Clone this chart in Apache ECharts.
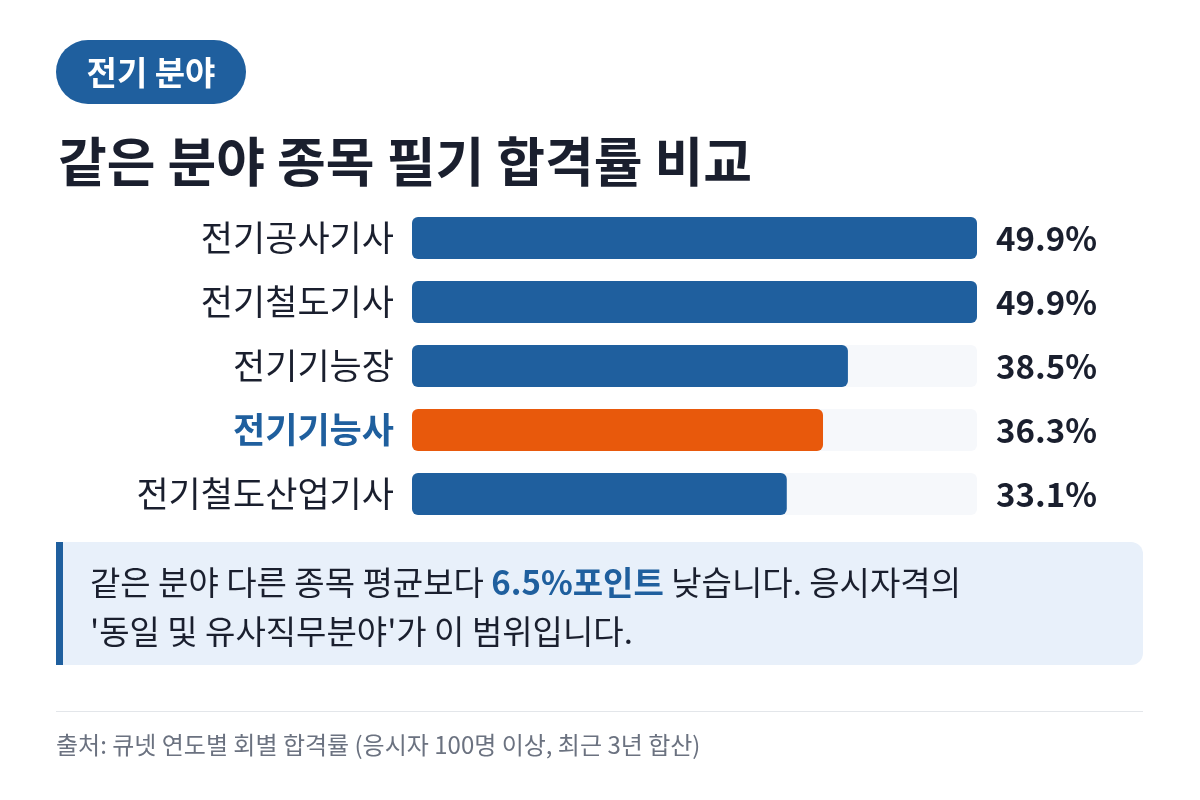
<!DOCTYPE html>
<html><head><meta charset="utf-8">
<script src="https://cdn.jsdelivr.net/npm/echarts@6/dist/echarts.min.js"></script>
<style>html,body{margin:0;background:#fff}#c{width:1200px;height:800px}</style>
</head><body><div id="c"></div>
<script>
const categories = ['전기공사기사','전기철도기사','전기기능장','전기기능사','전기철도산업기사'];
const values = [49.9, 49.9, 38.5, 36.3, 33.1];
const highlight = '전기기능사';
const F = "'Noto Sans CJK KR','Noto Sans',sans-serif";
const chart = echarts.init(document.getElementById('c'));
chart.setOption({
  backgroundColor:'#fff',
  grid:{left:412,right:223,top:206,height:320},
  xAxis:{type:'value',min:0,max:49.9,show:false},
  yAxis:[{type:'category',inverse:true,data:categories,axisLine:{show:false},axisTick:{show:false},
    axisLabel:{margin:18,fontFamily:F,fontSize:35,color:'#1a1f2e',
      formatter:v=>v===highlight?'{h|'+v+'}':v,
      rich:{h:{fontFamily:F,fontSize:35,fontWeight:'bold',color:'#1f5f9e'}}}},
    {type:'category',inverse:true,position:'right',data:values.map(v=>v.toFixed(1)+'%'),axisLine:{show:false},axisTick:{show:false},
    axisLabel:{margin:120,align:'right',fontFamily:F,fontSize:33,fontWeight:'bold',color:'#1a1f2e'}}],
  series:[{type:'bar',barWidth:42,data:values.map((v,i)=>({value:v,itemStyle:{color:categories[i]===highlight?'#e8590c':'#1f5f9e'}})),
    itemStyle:{borderRadius:6},
    showBackground:true,backgroundStyle:{color:'#f6f8fb',borderRadius:6}}],
  graphic:[
    {type:'rect',shape:{x:56,y:40,width:190,height:64,r:32},style:{fill:'#1f5f9e'}},
    {type:'text',x:151,y:72,style:{text:'전기 분야',font:'bold 33px '+F,fill:'#fff',align:'center',verticalAlign:'middle'}},
    {type:'text',x:58,y:162,style:{text:'같은 분야 종목 필기 합격률 비교',font:'bold 53px '+F,fill:'#1a1f2e',verticalAlign:'middle'}},
    {type:'rect',shape:{x:56,y:542,width:1087,height:123,r:[0,12,12,0]},style:{fill:'#e8f0fa'}},
    {type:'rect',shape:{x:56,y:542,width:7,height:123},style:{fill:'#1f5f9e'}},
    {type:'text',x:90,y:582,style:{text:'같은 분야 다른 종목 평균보다 {b|6.5%포인트} 낮습니다. 응시자격의',font:'33px '+F,fill:'#1a1f2e',verticalAlign:'middle',
      rich:{b:{font:'bold 33px '+F,fill:'#1f5f9e'}}}},
    {type:'text',x:90,y:631,style:{text:"'동일 및 유사직무분야'가 이 범위입니다.",font:'33px '+F,fill:'#1a1f2e',verticalAlign:'middle'}},
    {type:'rect',shape:{x:56,y:711,width:1087,height:1},style:{fill:'#e3e6ea'}},
    {type:'text',x:56,y:745,style:{text:'출처: 큐넷 연도별 회별 합격률 (응시자 100명 이상, 최근 3년 합산)',font:'24px '+F,fill:'#6b7280',verticalAlign:'middle'}}
  ]
});
</script></body></html>
